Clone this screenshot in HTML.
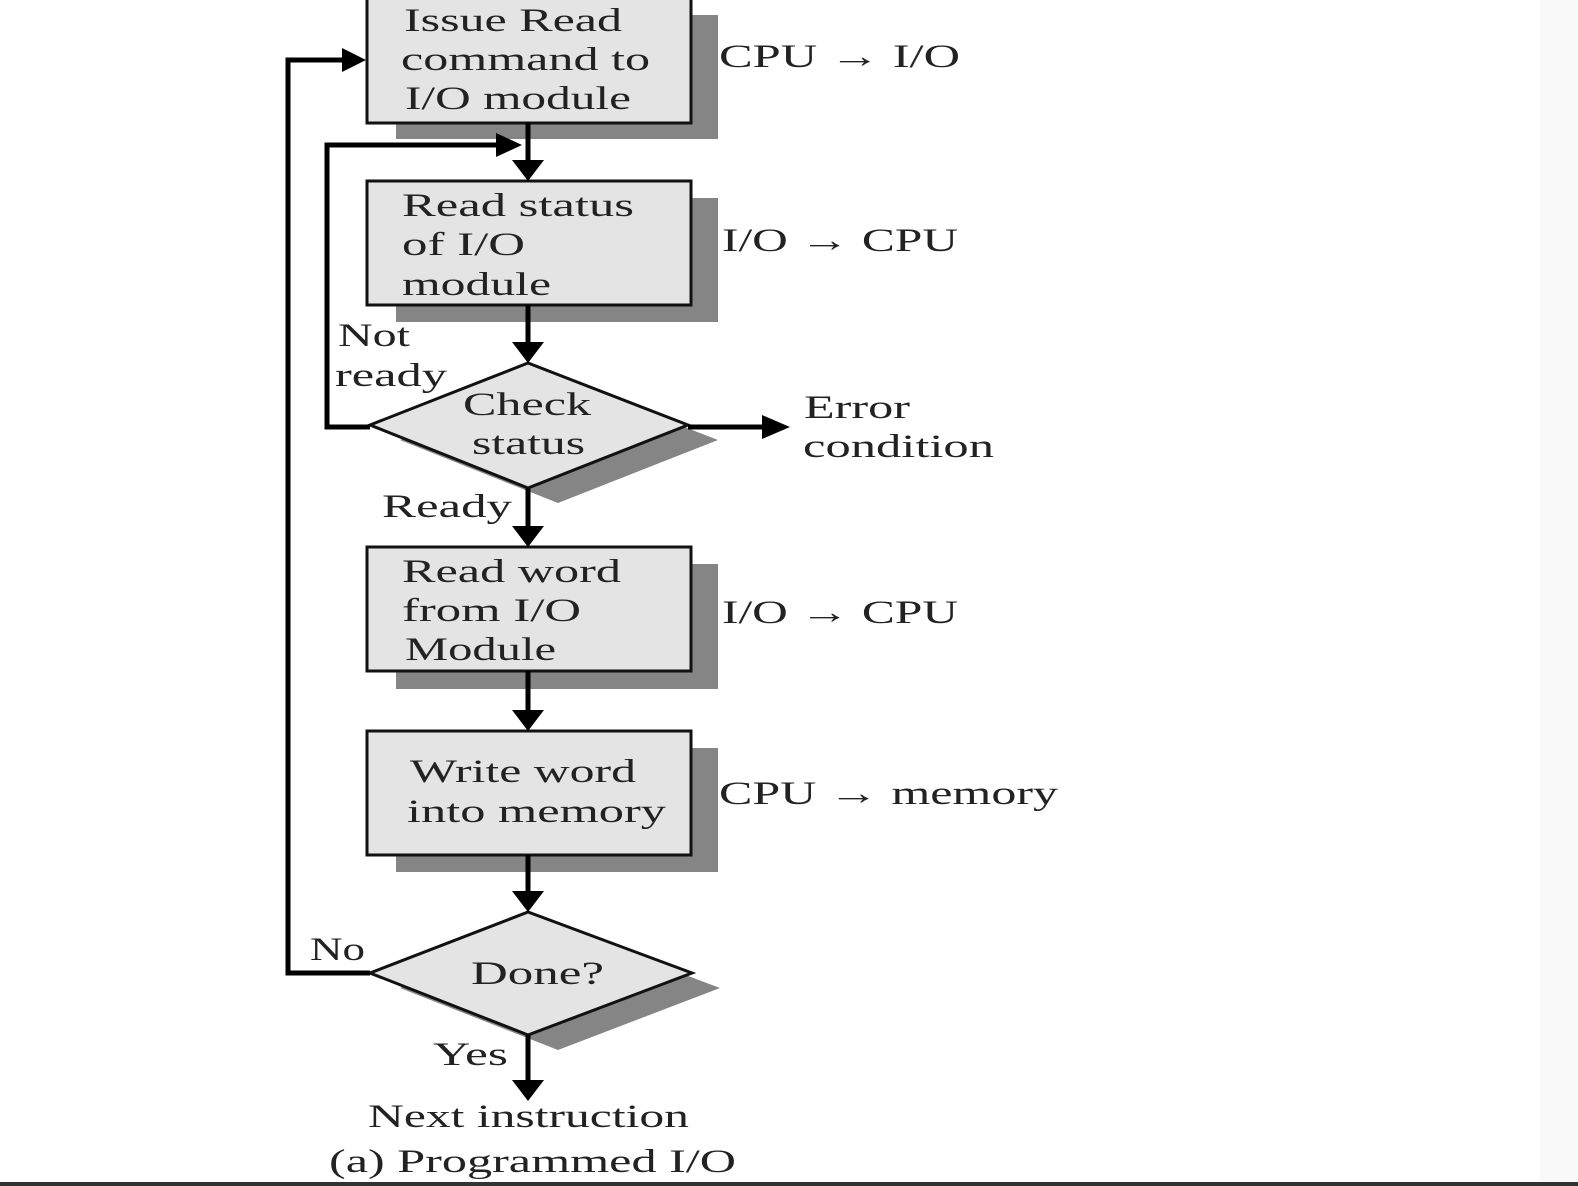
<!DOCTYPE html>
<html><head><style>
html,body{margin:0;padding:0;background:#fff;}
svg{display:block;}
text{font-family:"Liberation Serif",serif;font-size:33px;fill:#222;}
</style></head><body>
<svg width="1578" height="1186" viewBox="0 0 1578 1186">
<rect x="1540" y="0" width="38" height="1186" fill="#f9f9f9"/>
<rect x="0" y="1182" width="1578" height="4" fill="#333"/>
<g fill="#858585">
<rect x="396" y="15" width="322" height="124"/>
<rect x="396" y="198" width="322" height="124"/>
<polygon points="400,440 558,378 718,440 558,503"/>
<rect x="396" y="564" width="322" height="125"/>
<rect x="396" y="748" width="322" height="124"/>
<polygon points="400,988 558,927 720,988 558,1050"/>
</g>
<g fill="#e4e4e4" stroke="#111" stroke-width="3">
<rect x="367" y="-2" width="324" height="125"/>
<rect x="367" y="181" width="324" height="124"/>
<polygon points="370,425 528,363 688,425 528,488"/>
<rect x="367" y="547" width="324" height="124"/>
<rect x="367" y="731" width="324" height="124"/>
<polygon points="370,973 528,912 692,973 528,1035"/>
</g>
<g stroke="#000" stroke-width="5" fill="none">
<path d="M528,123 V162" />
<polygon points="512,160 544,160 528,181" fill="#000" stroke="none"/>
<path d="M528,305 V344"/>
<polygon points="512,342 544,342 528,363" fill="#000" stroke="none"/>
<path d="M528,488 V528"/>
<polygon points="512,526 544,526 528,547" fill="#000" stroke="none"/>
<path d="M528,671 V712"/>
<polygon points="512,710 544,710 528,731" fill="#000" stroke="none"/>
<path d="M528,855 V893"/>
<polygon points="512,891 544,891 528,912" fill="#000" stroke="none"/>
<path d="M528,1035 V1082"/>
<polygon points="512,1080 544,1080 528,1101" fill="#000" stroke="none"/>
<path d="M370,973 H288 V60 H346"/>
<polygon points="342,48 366,60 342,72" fill="#000" stroke="none"/>
<path d="M370,427 H327 V145 H500"/>
<polygon points="496,133 522,145 496,157" fill="#000" stroke="none"/>
<path d="M688,427 H766"/>
<polygon points="762,415 790,427 762,439" fill="#000" stroke="none"/>
</g>
<g lengthAdjust="spacingAndGlyphs">
<text x="404" y="31" textLength="218" lengthAdjust="spacingAndGlyphs">Issue Read</text>
<text x="401" y="70" textLength="249" lengthAdjust="spacingAndGlyphs">command to</text>
<text x="405" y="109" textLength="226" lengthAdjust="spacingAndGlyphs">I/O module</text>
<text x="719" y="67" textLength="241" lengthAdjust="spacingAndGlyphs">CPU → I/O</text>
<text x="402" y="216" textLength="232" lengthAdjust="spacingAndGlyphs">Read status</text>
<text x="402" y="255" textLength="123" lengthAdjust="spacingAndGlyphs">of I/O</text>
<text x="402" y="295" textLength="149" lengthAdjust="spacingAndGlyphs">module</text>
<text x="722" y="251" textLength="236" lengthAdjust="spacingAndGlyphs">I/O → CPU</text>
<text x="338" y="346" textLength="72" lengthAdjust="spacingAndGlyphs">Not</text>
<text x="335" y="386" textLength="112" lengthAdjust="spacingAndGlyphs">ready</text>
<text x="463" y="415" textLength="128" lengthAdjust="spacingAndGlyphs">Check</text>
<text x="472" y="454" textLength="113" lengthAdjust="spacingAndGlyphs">status</text>
<text x="804" y="418" textLength="106" lengthAdjust="spacingAndGlyphs">Error</text>
<text x="803" y="457" textLength="191" lengthAdjust="spacingAndGlyphs">condition</text>
<text x="382" y="517" textLength="130" lengthAdjust="spacingAndGlyphs">Ready</text>
<text x="402" y="582" textLength="219" lengthAdjust="spacingAndGlyphs">Read word</text>
<text x="402" y="621" textLength="179" lengthAdjust="spacingAndGlyphs">from I/O</text>
<text x="405" y="660" textLength="151" lengthAdjust="spacingAndGlyphs">Module</text>
<text x="722" y="623" textLength="236" lengthAdjust="spacingAndGlyphs">I/O → CPU</text>
<text x="410" y="782" textLength="226" lengthAdjust="spacingAndGlyphs">Write word</text>
<text x="407" y="822" textLength="259" lengthAdjust="spacingAndGlyphs">into memory</text>
<text x="719" y="804" textLength="339" lengthAdjust="spacingAndGlyphs">CPU → memory</text>
<text x="310" y="960" textLength="55" lengthAdjust="spacingAndGlyphs">No</text>
<text x="471" y="984" textLength="133" lengthAdjust="spacingAndGlyphs">Done?</text>
<text x="433" y="1065" textLength="75" lengthAdjust="spacingAndGlyphs">Yes</text>
<text x="368" y="1127" textLength="321" lengthAdjust="spacingAndGlyphs">Next instruction</text>
<text x="329" y="1172" textLength="407" lengthAdjust="spacingAndGlyphs">(a) Programmed I/O</text>
</g>
</svg>
</body></html>
